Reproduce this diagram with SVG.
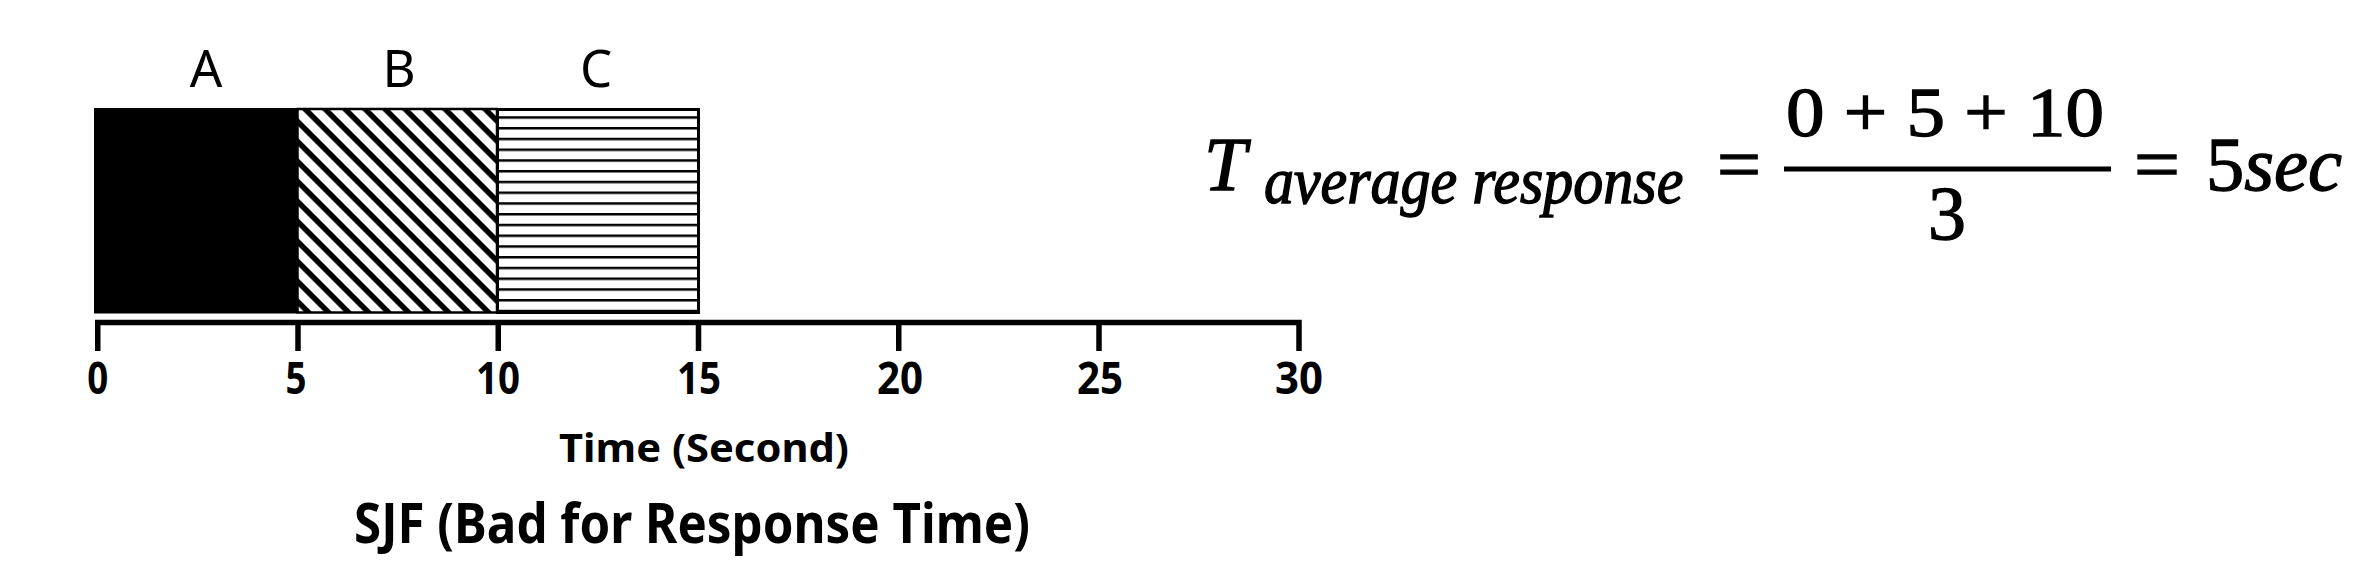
<svg xmlns="http://www.w3.org/2000/svg" width="2354" height="576" viewBox="0 0 2354 576">
<style>
.lbl{font-family:"Noto Sans","Open Sans","DejaVu Sans",sans-serif;font-size:51px;fill:#000;text-anchor:middle}
.tick{font-family:"Noto Sans","Open Sans","DejaVu Sans",sans-serif;font-size:44px;font-weight:bold;fill:#000;text-anchor:middle}
.cap{font-family:"Noto Sans","Open Sans","DejaVu Sans",sans-serif;font-weight:bold;fill:#000;text-anchor:middle}
.m{font-family:"Liberation Serif","Times New Roman",serif;fill:#000;stroke:#000;stroke-width:1.3}
.mi{font-style:italic}
.ax{fill:none;stroke:#000;stroke-width:5.5;stroke-linecap:butt;stroke-linejoin:miter}
</style>
<defs>
<pattern id="diag" patternUnits="userSpaceOnUse" width="14.14" height="14.14" patternTransform="rotate(45)">
<rect x="0" y="0" width="14.14" height="14.14" fill="#fff"/>
<rect x="0" y="0" width="14.14" height="5.5" fill="#000"/>
</pattern>
<pattern id="hl" patternUnits="userSpaceOnUse" x="0" y="116.25" width="20" height="10.75">
<rect x="0" y="0" width="20" height="10.75" fill="#fff"/>
<rect x="0" y="0" width="20" height="2.5" fill="#000"/>
</pattern>
</defs>
<rect width="2354" height="576" fill="#fff"/>

<g id="bar-A">
<rect x="94" y="108" width="203.5" height="205.5" fill="#000"/>
<text class="lbl" x="206" y="87">A</text>
</g>
<g id="bar-B">
<rect x="297.5" y="109" width="199.5" height="203.5" fill="url(#diag)" stroke="#000" stroke-width="2.5"/>
<text class="lbl" x="399" y="87">B</text>
</g>
<g id="bar-C">
<rect x="497.5" y="109.5" width="201" height="203" fill="url(#hl)" stroke="#000" stroke-width="3"/>
<text class="lbl" x="596" y="87">C</text>
</g>

<g id="axis">
<path class="ax" d="M97.75,351 V322.5 H1299 V351"/>
<path class="ax" d="M298,322.5 V351 M498.25,322.5 V351 M698.5,322.5 V351 M898.75,322.5 V351 M1099,322.5 V351"/>
<text class="tick" x="97.75" y="394" textLength="21" lengthAdjust="spacingAndGlyphs">0</text>
<text class="tick" x="296" y="394" textLength="21" lengthAdjust="spacingAndGlyphs">5</text>
<text class="tick" x="498" y="394" textLength="44" lengthAdjust="spacingAndGlyphs">10</text>
<text class="tick" x="699" y="394" textLength="44" lengthAdjust="spacingAndGlyphs">15</text>
<text class="tick" x="900" y="394" textLength="46" lengthAdjust="spacingAndGlyphs">20</text>
<text class="tick" x="1100" y="394" textLength="46" lengthAdjust="spacingAndGlyphs">25</text>
<text class="tick" x="1299" y="394" textLength="48" lengthAdjust="spacingAndGlyphs">30</text>
<text class="cap" x="704" y="462" font-size="40" textLength="290" lengthAdjust="spacingAndGlyphs">Time (Second)</text>
</g>

<g id="title">
<text class="cap" x="692" y="543" font-size="56" textLength="676" lengthAdjust="spacingAndGlyphs">SJF (Bad for Response Time)</text>
</g>

<g id="equation">
<text class="m mi" x="1204" y="190" font-size="76">T</text>
<text class="m mi" transform="translate(1264,203) scale(1,1.1)" x="0" y="0" font-size="60">average response</text>
<text class="m" x="1717" y="190" font-size="76" textLength="44" lengthAdjust="spacingAndGlyphs">=</text>
<text class="m" x="1786" y="136" font-size="69" textLength="318" lengthAdjust="spacingAndGlyphs">0 + 5 + 10</text>
<line x1="1784" y1="169" x2="2111" y2="169" stroke="#000" stroke-width="5"/>
<text class="m" x="1947" y="239" font-size="76" text-anchor="middle">3</text>
<text class="m" x="2134" y="190" font-size="76" textLength="46" lengthAdjust="spacingAndGlyphs">=</text>
<text class="m" x="2206" y="190" font-size="76" textLength="136" lengthAdjust="spacingAndGlyphs">5<tspan class="mi">sec</tspan></text>
</g>
</svg>
